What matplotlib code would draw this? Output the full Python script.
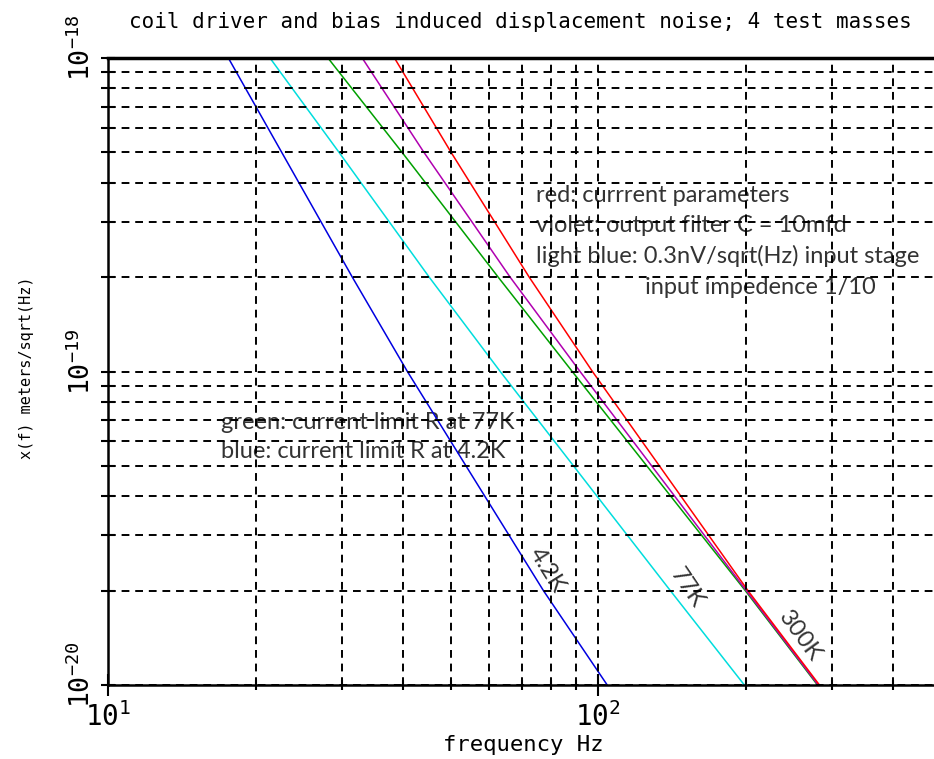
import numpy as np
import matplotlib
matplotlib.use("Agg")
import matplotlib.pyplot as plt
import matplotlib.transforms as mtransforms
from matplotlib.ticker import FixedLocator, NullFormatter, LogFormatterMathtext

plt.rcParams['font.family'] = ['DejaVu Sans Mono']
plt.rcParams['mathtext.fontset'] = 'custom'
plt.rcParams['mathtext.rm'] = 'DejaVu Sans Mono'
plt.rcParams['axes.unicode_minus'] = False

# displacement noise (m/sqrt(Hz)) and the frequencies where each curve crosses it
y_levels = [1e-18, 5e-19, 2e-19, 1e-19, 2e-20, 1e-20]
f_red = [38.4, 50.1, 72.3, 97.3, 202.0, 282.6]
f_violet = [33.0, 44.1, 66.1, 91.8, 200.5, 281.0]
f_green = [28.1, 39.8, 62.5, 88.5, 199.5, 280.0]
f_cyan = [21.4, 29.6, 45.2, 63.1, 140.3, 198.6]
y_blue = [1e-18, 2e-19, 1e-19, 2e-20, 1e-20]
f_blue = [17.6, 31.5, 40.8, 77.3, 104.3]

x_major = [10, 100]
x_minor = [20, 30, 40, 50, 60, 70, 80, 90, 200, 300, 400]
y_major = [1e-20, 1e-19, 1e-18]
y_minor = [k * 1e-20 for k in range(2, 10)] + [k * 1e-19 for k in range(2, 10)]

W, H = 934, 759
fig = plt.figure(figsize=(W / 100, H / 100), dpi=100)
ax = fig.add_axes([108 / W, 74 / H, 826 / W, 627 / H])

ax.plot(f_blue, y_blue, color='#0000e0', lw=1.1)
ax.plot(f_cyan, y_levels, color='#00dddd', lw=1.1)
ax.plot(f_green, y_levels, color='#00a000', lw=1.1)
ax.plot(f_violet, y_levels, color='#b000b0', lw=1.1)
ax.plot(f_red, y_levels, color='#ff0000', lw=1.1)

ax.set_xscale('log')
ax.set_yscale('log')
ax.set_xlim(10, 484)
ax.set_ylim(1e-20, 1e-18)

ax.xaxis.set_major_locator(FixedLocator(x_major))
ax.xaxis.set_minor_locator(FixedLocator(x_minor))
ax.yaxis.set_major_locator(FixedLocator(y_major))
ax.yaxis.set_minor_locator(FixedLocator(y_minor))
ax.xaxis.set_major_formatter(LogFormatterMathtext())
ax.yaxis.set_major_formatter(LogFormatterMathtext())
ax.xaxis.set_minor_formatter(NullFormatter())
ax.yaxis.set_minor_formatter(NullFormatter())

ax.set_axisbelow(False)
ax.grid(which='both', color='black', linestyle=(0, (4, 3)), linewidth=1.4)

ax.tick_params(axis='x', which='major', direction='inout', length=16, width=1.5, labelsize=20, pad=4)
ax.tick_params(axis='x', which='minor', direction='inout', length=7, width=1.5)
ax.tick_params(axis='y', which='both', direction='inout', length=10, width=1.5, labelsize=19, pad=4)
lift = mtransforms.ScaledTranslation(0, 10 / 100, fig.dpi_scale_trans)
for lab in ax.get_yticklabels():
    lab.set_rotation(90)
    lab.set_va('center')
    lab.set_transform(lab.get_transform() + lift)

ax.spines['right'].set_visible(False)
ax.spines['top'].set_linewidth(2.5)
ax.spines['left'].set_linewidth(1.8)
ax.spines['bottom'].set_linewidth(1.8)

fig.text(520 / W, 1 - 22 / H, 'coil driver and bias induced displacement noise; 4 test masses',
         ha='center', va='center', fontsize=15)
fig.text(523 / W, 1 - 745 / H, 'frequency Hz', ha='center', va='center', fontsize=16)
fig.text(27 / W, 1 - 368 / H, 'x(f) meters/sqrt(Hz)', ha='center', va='center',
         rotation=90, fontsize=11)

# notes, drawn under the dashed grid
note = dict(transform=fig.transFigure, fontsize=17, color='#333333', family='Lato',
            va='center', zorder=1, clip_on=False)
ax.text(536 / W, 1 - 195 / H, 'red: currrent parameters', **note)
ax.text(536 / W, 1 - 225 / H, 'violet: output filter C = 10mfd', **note)
ax.text(536 / W, 1 - 256 / H, 'light blue: 0.3nV/sqrt(Hz) input stage', **note)
ax.text(645 / W, 1 - 287 / H, 'input impedence 1/10', **note)
ax.text(221 / W, 1 - 422 / H, 'green: current limit R at 77K', **note)
ax.text(221 / W, 1 - 451 / H, 'blue: current limit R at 4.2K', **note)

temp = dict(transform=fig.transFigure, fontsize=17, color='#333333', family='Lato',
            ha='center', va='center', zorder=1, clip_on=False, rotation_mode='anchor')
ax.text(547 / W, 1 - 570 / H, '4.2K', rotation=-58, **temp)
ax.text(687 / W, 1 - 588 / H, '77K', rotation=-56, **temp)
ax.text(800 / W, 1 - 636 / H, '300K', rotation=-54, **temp)

fig.savefig('out.png', dpi=100)
